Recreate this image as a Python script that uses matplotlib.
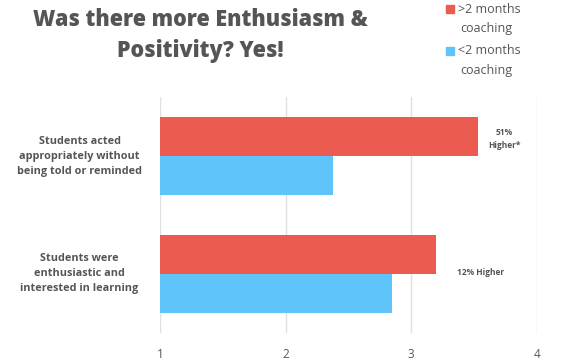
import numpy as np
import matplotlib
matplotlib.use('Agg')
import matplotlib.pyplot as plt
from matplotlib.patches import Rectangle

# data
categories = ["Students acted\nappropriately without\nbeing told or reminded",
              "Students were\nenthusiastic and\ninterested in learning"]
over_two_months = [3.53, 3.20]
under_two_months = [2.38, 2.85]
notes = ["51%\nHigher*", "12% Higher"]
series_names = [">2 months\ncoaching", "<2 months\ncoaching"]
xticks = [1, 2, 3, 4]

RED = '#EC5B50'
BLUE = '#5EC4FA'
GREY = '#555555'
FONT = 'Open Sans'

fig = plt.figure(figsize=(5.61, 3.61), dpi=100)
ax = fig.add_axes([0.285, 0.078, 0.672, 0.653])

y = np.arange(len(categories))
h = 0.33
ax.barh(y - h / 2, np.array(over_two_months) - 1, left=1, height=h, color=RED)
ax.barh(y + h / 2, np.array(under_two_months) - 1, left=1, height=h, color=BLUE)

ax.set_xlim(1, 4)
ax.set_ylim(1.5, -0.5)
ax.set_xticks(xticks)
ax.set_xticklabels([str(t) for t in xticks], fontsize=8.5, color=GREY, family=FONT)
ax.tick_params(axis='x', length=0, pad=11)
ax.set_yticks([])
ax.grid(axis='x', color='#e0e0e0', linewidth=1)
ax.set_axisbelow(True)
for s in ax.spines.values():
    s.set_visible(False)

# category labels
for yi, cat in zip(y, categories):
    ax.text(-0.213, yi, cat, transform=ax.get_yaxis_transform(), ha='center', va='center',
            fontsize=7.8, fontweight='bold', color=GREY, family=FONT, linespacing=1.5)

# notes next to the bars
ax.text(3.74, -0.145, notes[0], ha='center', va='center', fontsize=6,
        fontweight='bold', color=GREY, family=FONT, linespacing=1.5)
ax.text(3.55, 0.99, notes[1], ha='center', va='center', fontsize=6,
        fontweight='bold', color=GREY, family=FONT)

# title
fig.text(0.357, 0.945, "Was there more Enthusiasm &", ha='center', va='center',
         fontsize=15.5, fontweight='heavy', color=GREY, family=FONT)
fig.text(0.357, 0.86, "Positivity? Yes!", ha='center', va='center',
         fontsize=15.5, fontweight='heavy', color=GREY, family=FONT)

# legend
for i, (name, col) in enumerate(zip(series_names, [RED, BLUE])):
    ytop = 0.975 - i * 0.115
    fig.patches.append(Rectangle((0.795, ytop - 0.012), 0.014, 0.022,
                                 transform=fig.transFigure, color=col))
    fig.text(0.816, ytop, name.split('\n')[0], ha='left', va='center',
             fontsize=9, color=GREY, family=FONT)
    fig.text(0.82, ytop - 0.055, name.split('\n')[1], ha='left', va='center',
             fontsize=9, color=GREY, family=FONT)

fig.savefig('out.png', dpi=100, facecolor='white')
